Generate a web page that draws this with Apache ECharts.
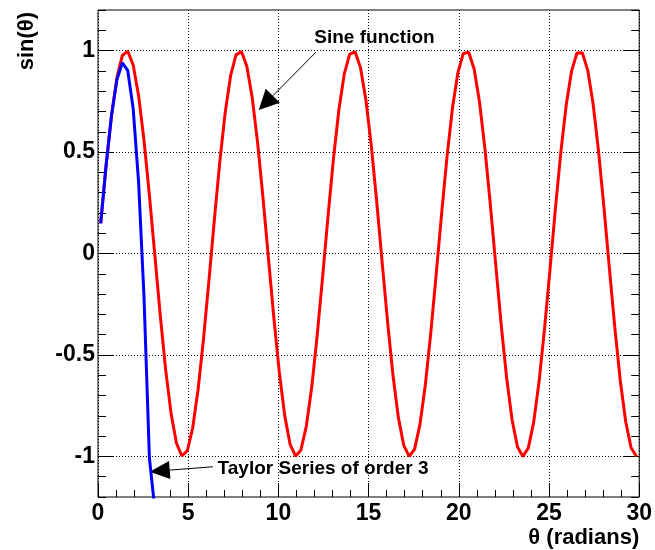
<!DOCTYPE html>
<html>
<head>
<meta charset="utf-8">
<script src="https://cdn.jsdelivr.net/npm/echarts@6.0.0/dist/echarts.min.js"></script>
<style>
    html, body { margin: 0; padding: 0; background: #fff; }
    #main { width: 655px; height: 550px; }
</style>
</head>
<body>
<div id="main"></div>
<script>
// θ sample points (radians)
const thetas = [
    0.15, 0.45, 0.75, 1.05, 1.35, 1.65, 1.95, 2.25, 2.55, 2.85,
    3.15, 3.45, 3.75, 4.05, 4.35, 4.65, 4.95, 5.25, 5.55, 5.85,
    6.15, 6.45, 6.75, 7.05, 7.35, 7.65, 7.95, 8.25, 8.55, 8.85,
    9.15, 9.45, 9.75, 10.05, 10.35, 10.65, 10.95, 11.25, 11.55, 11.85,
    12.15, 12.45, 12.75, 13.05, 13.35, 13.65, 13.95, 14.25, 14.55, 14.85,
    15.15, 15.45, 15.75, 16.05, 16.35, 16.65, 16.95, 17.25, 17.55, 17.85,
    18.15, 18.45, 18.75, 19.05, 19.35, 19.65, 19.95, 20.25, 20.55, 20.85,
    21.15, 21.45, 21.75, 22.05, 22.35, 22.65, 22.95, 23.25, 23.55, 23.85,
    24.15, 24.45, 24.75, 25.05, 25.35, 25.65, 25.95, 26.25, 26.55, 26.85,
    27.15, 27.45, 27.75, 28.05, 28.35, 28.65, 28.95, 29.25, 29.55, 29.85
];
// sine function values at thetas
const sineVals = [
    0.149, 0.435, 0.682, 0.867, 0.976, 0.997, 0.929, 0.778, 0.558, 0.287,
    -0.008, -0.304, -0.572, -0.788, -0.935, -0.998, -0.972, -0.859, -0.669, -0.420,
    -0.133, 0.166, 0.450, 0.694, 0.876, 0.979, 0.995, 0.923, 0.767, 0.544,
    0.271, -0.025, -0.320, -0.585, -0.799, -0.941, -0.999, -0.968, -0.850, -0.657,
    -0.404, -0.116, 0.183, 0.465, 0.706, 0.884, 0.983, 0.994, 0.916, 0.757,
    0.530, 0.255, -0.042, -0.335, -0.599, -0.809, -0.946, -1.000, -0.964, -0.841,
    -0.644, -0.389, -0.099, 0.199, 0.480, 0.718, 0.891, 0.986, 0.992, 0.909,
    0.745, 0.515, 0.239, -0.059, -0.351, -0.612, -0.818, -0.952, -1.000, -0.959,
    -0.832, -0.631, -0.373, -0.083, 0.216, 0.495, 0.729, 0.899, 0.988, 0.989,
    0.902, 0.734, 0.501, 0.222, -0.076, -0.367, -0.626, -0.828, -0.957, -1.000
];
// taylor series (order 3) values, first thetas only
const taylorVals = [0.149, 0.435, 0.680, 0.857, 0.940, 0.901, 0.714, 0.352, -0.214, -1.008, -1.26];
// y tick labels
const yMajorTicks = [-1, -0.5, 0, 0.5, 1];

const FONT = '"Liberation Sans", Arial, sans-serif';

function pairs(xs, ys) {
    return ys.map((y, i) => [xs[i], y]);
}

const chart = echarts.init(document.getElementById('main'), null, {renderer: 'canvas'});

//y轴: minor ticks / major ticks+labels+grid, both sides
function yAxisDef(side, major) {
    return {
        type: 'value', position: side, min: -1.2, max: 1.2,
        interval: major ? undefined : 0.1,
        axisLine: {show: false, onZero: false},
        axisTick: major
            ? {inside: true, length: 16, customValues: yMajorTicks, lineStyle: {color: '#000'}}
            : {inside: true, length: 8, lineStyle: {color: '#000'}},
        axisLabel: (major && side === 'left')
            ? {customValues: yMajorTicks, margin: 3, color: '#000', fontSize: 23,
               fontWeight: 'bold', fontFamily: FONT}
            : {show: false},
        splitLine: (major && side === 'left')
            ? {show: true, lineStyle: {color: '#000', width: 1, type: [1, 2]}}
            : {show: false}
    };
}

chart.setOption({
    animation: false,
    grid: {left: 98, right: 14, top: 10, bottom: 53, show: true, borderColor: '#000', borderWidth: 1},
    xAxis: [{
        type: 'value', position: 'bottom', min: 0, max: 30, interval: 5,
        axisLine: {show: false, onZero: false},
        axisTick: {inside: true, length: 14, lineStyle: {color: '#000'}},
        minorTick: {show: true, splitNumber: 5, length: 7, lineStyle: {color: '#000'}},
        axisLabel: {margin: 5, color: '#000', fontSize: 23, fontWeight: 'bold', fontFamily: FONT},
        splitLine: {show: true, lineStyle: {color: '#000', width: 1, type: [1, 2]}}
    }],
    yAxis: [
        yAxisDef('left', false),
        yAxisDef('left', true),
        yAxisDef('right', false),
        yAxisDef('right', true)
    ],
    series: [{
        name: 'Sine function', type: 'line', yAxisIndex: 1,
        data: pairs(thetas, sineVals),
        showSymbol: false, clip: true,
        lineStyle: {color: '#ff0000', width: 3}
    }, {
        name: 'Taylor Series of order 3', type: 'line', yAxisIndex: 1,
        data: pairs(thetas, taylorVals),
        showSymbol: false, clip: true,
        lineStyle: {color: '#0000ff', width: 3}
    }]
});

function px(pt) {
    return chart.convertToPixel({xAxisIndex: 0, yAxisIndex: 1}, pt);
}

// 箭头: line + filled triangle head
function arrow(from, to, head, half) {
    const a = px(from), b = px(to);
    const dx = b[0] - a[0], dy = b[1] - a[1];
    const len = Math.hypot(dx, dy);
    const ux = dx / len, uy = dy / len;
    const bx = b[0] - ux * head, by = b[1] - uy * head;
    return [
        {type: 'line', shape: {x1: a[0], y1: a[1], x2: bx, y2: by}, style: {stroke: '#000', lineWidth: 1}},
        {type: 'polygon', shape: {points: [b, [bx - uy * half, by + ux * half], [bx + uy * half, by - ux * half]]},
         style: {fill: '#000'}}
    ];
}

function label(text, at) {
    const p = px(at);
    return {type: 'text', x: p[0], y: p[1],
        style: {text: text, font: 'bold 19px ' + FONT, fill: '#000', textAlign: 'left', textVerticalAlign: 'middle'}};
}

const plot = chart.getModel().getComponent('grid', 0).coordinateSystem.getRect();

chart.setOption({
    graphic: [
        label('Sine function', [11.99, 1.062]),
        ...arrow([12.08, 0.992], [8.91, 0.707], 20, 10),
        label('Taylor Series of order 3', [6.63, -1.062]),
        ...arrow([6.37, -1.051], [2.87, -1.075], 20, 9),
        // axis titles
        {type: 'text', x: plot.x + plot.width, y: 538,
         style: {text: 'θ (radians)', font: 'bold 22px ' + FONT, fill: '#000', textAlign: 'right', textVerticalAlign: 'middle'}},
        {type: 'text', x: 27, y: 12, rotation: Math.PI / 2,
         style: {text: 'sin(θ)', font: 'bold 22px ' + FONT, fill: '#000', textAlign: 'right', textVerticalAlign: 'middle'}}
    ]
});
</script>
</body>
</html>
